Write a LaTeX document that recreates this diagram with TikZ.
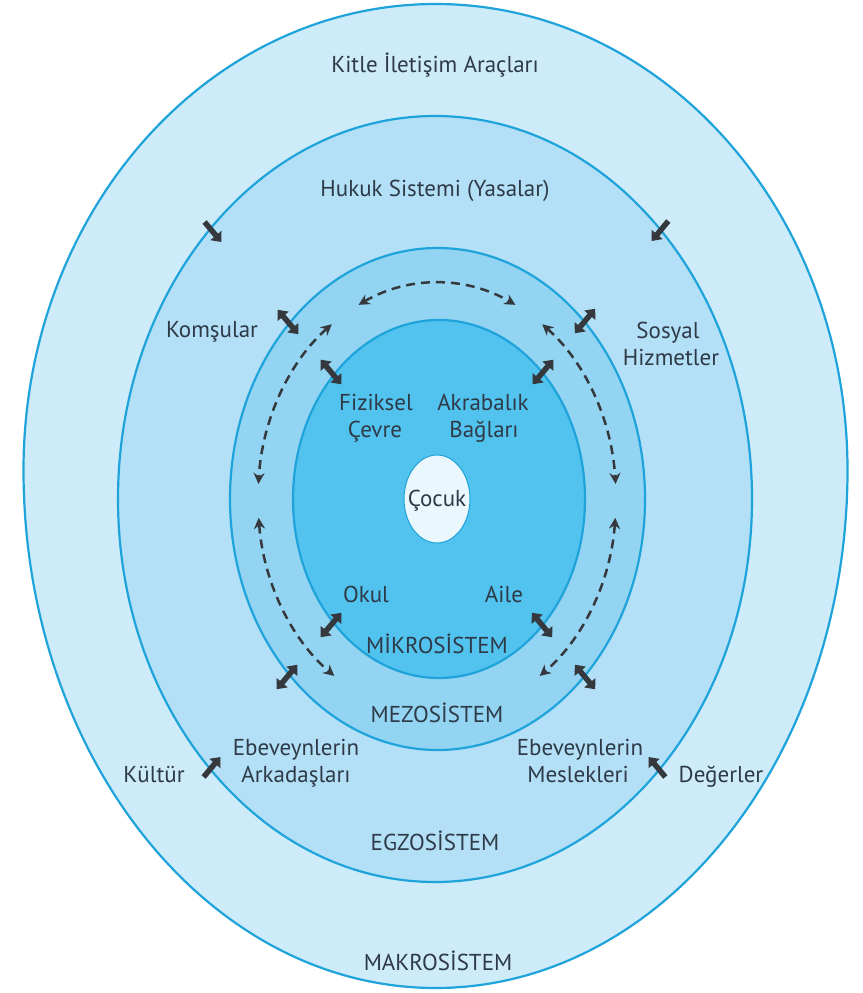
\documentclass[tikz,border=0pt]{standalone}
\usepackage{fontspec}
\setmainfont{PT Sans}
\usetikzlibrary{arrows.meta,shapes.geometric}
\definecolor{macroC}{HTML}{CDEBF8}
\definecolor{exoC}{HTML}{B3E0F6}
\definecolor{mesoC}{HTML}{92D4F1}
\definecolor{microC}{HTML}{52C3EE}
\definecolor{childC}{HTML}{EAF7FD}
\definecolor{lineC}{HTML}{1EA3DA}
\definecolor{txt}{HTML}{2E3A47}
\definecolor{arr}{HTML}{35383D}
\begin{document}
\begin{tikzpicture}[x=1pt,y=-1pt,
  lbl/.style={font=\fontsize{23}{28}\selectfont, text=txt, inner sep=0pt, anchor=base},
  ring/.style={draw=lineC, line width=2.2pt},
  dbl/.style={draw=arr, line width=5.5pt, {Triangle[length=8.5pt,width=14pt]}-{Triangle[length=8.5pt,width=14pt]}},
  sgl/.style={draw=arr, line width=5.5pt, -{Triangle[length=8.5pt,width=14pt]}},
  dsh/.style={draw=arr, line width=2.5pt, dash pattern=on 9pt off 6pt, {Stealth[length=11pt,width=11pt]}-{Stealth[length=11pt,width=11pt]}}]
\useasboundingbox (0,0) rectangle (862,993);
\fill[white] (0,0) rectangle (862,993);
% rings
\draw[ring, fill=macroC] (23.5,470) arc[start angle=180, end angle=360, x radius=412, y radius=466]
  arc[start angle=0, end angle=180, x radius=412, y radius=518] -- cycle;
\draw[ring, fill=exoC] (435,499) ellipse [x radius=317, y radius=383];
\draw[ring, fill=mesoC] (437.5,499) ellipse [x radius=207.5, y radius=251];
\draw[ring, fill=microC] (439,499) ellipse [x radius=146, y radius=179];
\node (cocukC) [ellipse, draw=lineC, line width=1pt, fill=childC, minimum width=66pt, minimum height=88pt, inner sep=0pt] at (437,499) {};
% dashed arcs (ellipse centre 437,499; rx 179, ry 216)
\coordinate (dT) at ({437+179*cos(-116)},{499+216*sin(-116)});
\coordinate (dLU) at ({437+179*cos(-126)},{499+216*sin(-126)});
\coordinate (dRU) at ({437+179*cos(-54)},{499+216*sin(-54)});
\coordinate (dLL) at ({437+179*cos(175)},{499+216*sin(175)});
\coordinate (dRL) at ({437+179*cos(5)},{499+216*sin(5)});
\draw[dsh] (dT) arc[start angle=-116, end angle=-64, x radius=179, y radius=216];
\draw[dsh] (dLU) arc[start angle=-126, end angle=-176, x radius=179, y radius=216];
\draw[dsh] (dRU) arc[start angle=-54, end angle=-4, x radius=179, y radius=216];
\draw[dsh] (dLL) arc[start angle=175, end angle=125, x radius=179, y radius=216];
\draw[dsh] (dRL) arc[start angle=5, end angle=55, x radius=179, y radius=216];
% double arrows
\coordinate (a1) at (277.7,309.8); \coordinate (b1) at (298.3,334.2);
\coordinate (a2) at (320.7,359.7); \coordinate (b2) at (341.3,384.3);
\coordinate (a3) at (595.2,308.7); \coordinate (b3) at (574.8,333.3);
\coordinate (a4) at (553.3,359.7); \coordinate (b4) at (532.7,384.3);
\coordinate (a5) at (320.7,637.2); \coordinate (b5) at (341.3,612.8);
\coordinate (a6) at (552.2,637.3); \coordinate (b6) at (531.8,612.7);
\coordinate (a7) at (276.7,689.2); \coordinate (b7) at (297.3,664.8);
\coordinate (a8) at (595.2,689.3); \coordinate (b8) at (574.8,664.7);
\foreach \i in {1,...,8} {\draw[dbl] (a\i) -- (b\i);}
% single arrows
\coordinate (s1) at (204.6,222); \coordinate (t1) at (221.4,242);
\coordinate (s2) at (668.3,221); \coordinate (t2) at (651.7,241);
\coordinate (s3) at (203.6,777); \coordinate (t3) at (220.4,757);
\coordinate (s4) at (665.3,777); \coordinate (t4) at (648.7,757);
\foreach \i in {1,...,4} {\draw[sgl] (s\i) -- (t\i);}
% labels
\node[lbl] (kitle) at (435,72) {Kitle İletişim Araçları};
\node[lbl] (hukuk) at (435,196) {Hukuk Sistemi (Yasalar)};
\node[lbl] (komsu) at (212,337) {Komşular};
\node[lbl] (sos1) at (668,338) {Sosyal};
\node[lbl] (sos2) at (671,365) {Hizmetler};
\node[lbl] (fiz1) at (376,410) {Fiziksel};
\node[lbl] (fiz2) at (375,437) {Çevre};
\node[lbl] (akr1) at (483,410) {Akrabalık};
\node[lbl] (akr2) at (484,437) {Bağları};
\node[lbl] (cocuk) at (437,506) {Çocuk};
\node[lbl] (okul) at (366,602) {Okul};
\node[lbl] (aile) at (504,602) {Aile};
\node[lbl] (mikro) at (437,653) {MİKROSİSTEM};
\node[lbl] (mezo) at (437,722) {MEZOSİSTEM};
\node[lbl] (ebl1) at (296,755) {Ebeveynlerin};
\node[lbl] (ebl2) at (296,782) {Arkadaşları};
\node[lbl] (ebr1) at (580,755) {Ebeveynlerin};
\node[lbl] (ebr2) at (578,782) {Meslekleri};
\node[lbl] (kultur) at (154,782) {Kültür};
\node[lbl] (deger) at (721,782) {Değerler};
\node[lbl] (egzo) at (435,850) {EGZOSİSTEM};
\node[lbl] (makro) at (438,970) {MAKROSİSTEM};
\end{tikzpicture}
\end{document}
